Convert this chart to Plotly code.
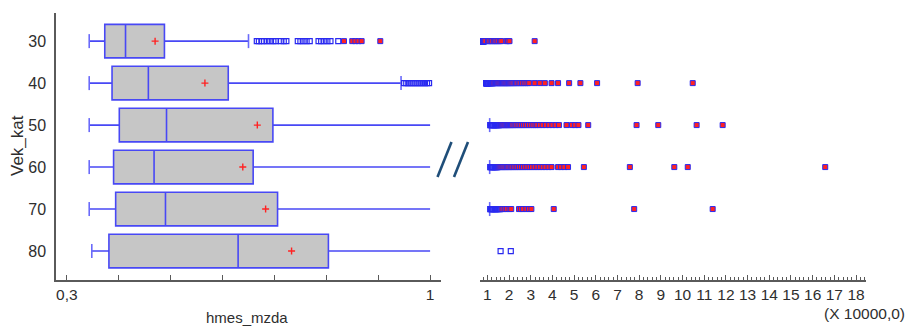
import plotly.graph_objects as go

# ---------------- data (units of 10000) ----------------
categories = ["30", "40", "50", "60", "70", "80"]
lower_whisker = [0.343, 0.343, 0.343, 0.343, 0.343, 0.348]
q1 = [0.373, 0.387, 0.401, 0.390, 0.394, 0.381]
median = [0.413, 0.457, 0.492, 0.468, 0.490, 0.630]
mean = [0.470, 0.566, 0.667, 0.639, 0.683, 0.733]
q3 = [0.488, 0.611, 0.697, 0.659, 0.706, 0.804]
upper_whisker = [0.650, 0.944, 1.106, 1.106, 1.106, 1.000]

outside_points = {
    "30": [0.666, 0.670, 0.675, 0.680, 0.686, 0.692, 0.698, 0.703, 0.712, 0.718, 0.723,
           0.745, 0.750, 0.756, 0.762, 0.768, 0.785, 0.790, 0.796, 0.802, 0.808, 0.823],
    "40": [0.950, 0.954, 0.958, 0.962, 0.966, 0.970, 0.974, 0.978, 0.982, 0.986, 0.990,
           0.994, 0.998, 1.03, 1.06, 1.09, 1.12, 1.15, 1.18, 1.21, 1.24],
    "50": [1.13, 1.17, 1.21, 1.25, 1.29, 1.33, 1.37, 1.41, 1.45, 1.49, 1.53],
    "60": [1.13, 1.17, 1.21, 1.25, 1.29, 1.33, 1.37, 1.41, 1.45],
    "70": [1.13, 1.17, 1.21, 1.25, 1.29, 1.33, 1.37, 1.41, 1.46, 1.52, 1.58],
    "80": [1.61, 2.08],
}
far_outside_points = {
    "30": [0.834, 0.850, 0.856, 0.862, 0.868, 0.904, 1.03, 1.08, 1.15, 1.22, 1.30, 1.36,
           1.42, 1.50, 1.58, 1.64, 1.88, 1.95, 2.02, 3.18],
    "40": [1.28, 1.32, 1.36, 1.40, 1.44, 1.48, 1.52, 1.56, 1.60, 1.64, 1.68, 1.72, 1.76,
           1.80, 1.84, 1.88, 1.92, 1.96, 2.00, 2.05, 2.10, 2.15, 2.20, 2.26, 2.32, 2.38,
           2.45, 2.52, 2.60, 2.68, 2.76, 2.85, 2.93, 3.18, 3.42, 3.65, 3.96, 4.26, 4.77,
           5.29, 6.06, 7.93, 10.47],
    "50": [1.59, 1.63, 1.67, 1.71, 1.75, 1.79, 1.83, 1.87, 1.91, 1.95, 1.99, 2.04, 2.09,
           2.14, 2.20, 2.26, 2.33, 2.40, 2.48, 2.56, 2.64, 2.73, 2.82, 2.92, 3.02, 3.12,
           3.22, 3.30, 3.42, 3.55, 3.70, 3.85, 4.00, 4.15, 4.30, 4.65, 4.90, 5.05, 5.20,
           5.65, 7.88, 8.88, 10.65, 11.85],
    "60": [1.49, 1.54, 1.59, 1.64, 1.69, 1.74, 1.79, 1.84, 1.90, 1.96, 2.02, 2.08, 2.15,
           2.22, 2.30, 2.38, 2.46, 2.55, 2.64, 2.74, 2.84, 2.95, 3.06, 3.18, 3.30, 3.42,
           3.55, 3.68, 3.82, 3.96, 4.26, 4.40, 4.55, 4.72, 5.45, 7.57, 9.62, 10.24, 16.58],
    "70": [1.66, 1.74, 1.82, 1.90, 2.02, 2.10, 2.46, 2.55, 2.65, 2.80, 2.92, 3.03, 4.06,
           7.77, 11.39],
    "80": [],
}

left_tick_values = [0.3, 0.4, 0.5, 0.6, 0.7, 0.8, 0.9, 1.0]
left_tick_labels = ["0,3", "", "", "", "", "", "", "1"]
right_tick_values = [1, 2, 3, 4, 5, 6, 7, 8, 9, 10, 11, 12, 13, 14, 15, 16, 17, 18]
right_tick_labels = ["1", "2", "3", "4", "5", "6", "7", "8", "9", "10", "11", "12",
                     "13", "14", "15", "16", "17", "18"]

BREAK = 1.0          # value where the axis is broken
LEFT_RANGE = [0.279, 1.021]
RIGHT_RANGE = [0.66, 18.46]

# ---------------- style ----------------
FONT = "Arial, Liberation Sans, sans-serif"
BLUE = "#4848F5"
WHISK = "#6A6AFA"
PT_BLUE = "#2A2AF0"
RED = "#FF2222"
GRAY_FILL = "#C6C6C6"
AXIS = "#5A5A5A"
TXT = "#2E2E2E"

fig = go.Figure()

# boxes (left panel)
fig.add_trace(go.Box(
    y=categories, q1=q1, median=median, q3=q3,
    lowerfence=lower_whisker,
    upperfence=[min(u, BREAK) for u in upper_whisker],
    orientation="h", width=0.8, whiskerwidth=0,
    fillcolor=GRAY_FILL, line=dict(color=BLUE, width=1.6),
    boxpoints=False, showlegend=False, hoverinfo="skip",
    xaxis="x", yaxis="y"))

# whisker caps
cap_style = dict(symbol="line-ns", size=10, line=dict(color=WHISK, width=1.6))
fig.add_trace(go.Scatter(
    x=lower_whisker, y=categories, mode="markers", marker=cap_style,
    xaxis="x", yaxis="y", showlegend=False, hoverinfo="skip"))
lc_x = [u for u in upper_whisker if u < BREAK]
lc_y = [c for c, u in zip(categories, upper_whisker) if u < BREAK]
fig.add_trace(go.Scatter(x=lc_x, y=lc_y, mode="markers", marker=cap_style,
                         xaxis="x", yaxis="y", showlegend=False, hoverinfo="skip"))

# right panel whisker continuation
for c, u in zip(categories, upper_whisker):
    if u > BREAK:
        fig.add_trace(go.Scatter(
            x=[BREAK, u], y=[c, c], mode="lines", line=dict(color=WHISK, width=1.6),
            xaxis="x2", yaxis="y", showlegend=False, hoverinfo="skip"))
rc_x = [u for u in upper_whisker if u > BREAK]
rc_y = [c for c, u in zip(categories, upper_whisker) if u > BREAK]
fig.add_trace(go.Scatter(x=rc_x, y=rc_y, mode="markers", marker=cap_style,
                         xaxis="x2", yaxis="y", showlegend=False, hoverinfo="skip"))

# means
fig.add_trace(go.Scatter(
    x=mean, y=categories, mode="markers",
    marker=dict(symbol="cross-thin", size=5, line=dict(color=RED, width=1.4)),
    xaxis="x", yaxis="y", showlegend=False, hoverinfo="skip"))

# outliers on both panels
ox, oy, fx, fy = [], [], [], []
for c in categories:
    ox += outside_points[c]
    oy += [c] * len(outside_points[c])
    fx += far_outside_points[c]
    fy += [c] * len(far_outside_points[c])

for xa in ["x", "x2"]:
    fig.add_trace(go.Scatter(
        x=ox, y=oy, mode="markers",
        marker=dict(symbol="square-open", size=5, color=PT_BLUE, line=dict(width=1.2)),
        xaxis=xa, yaxis="y", showlegend=False, hoverinfo="skip"))
    fig.add_trace(go.Scatter(
        x=fx, y=fy, mode="markers",
        marker=dict(symbol="square", size=5, color=RED, line=dict(color=PT_BLUE, width=1)),
        xaxis=xa, yaxis="y", showlegend=False, hoverinfo="skip"))

# ---------------- layout ----------------
W, H = 909, 328
L, R, T, B = 56, 43, 13, 48
PW, PH = W - L - R, H - T - B

def px(x):
    return (x - L) / PW

def py(y):
    return (H - B - y) / PH

shapes = []
for (x0, y0, x1, y1) in [(437.5, 177, 451.5, 142), (454, 177, 468, 142)]:
    shapes.append(dict(type="line", xref="paper", yref="paper",
                       x0=px(x0), y0=py(y0), x1=px(x1), y1=py(y1),
                       line=dict(color="#1F4E79", width=2.6)))

fig.update_layout(
    width=W, height=H,
    margin=dict(l=L, r=R, t=T, b=B),
    paper_bgcolor="white", plot_bgcolor="white",
    font=dict(family=FONT, size=15, color=TXT),
    showlegend=False,
    xaxis=dict(domain=[0, px(441)], range=LEFT_RANGE, anchor="y",
               tickmode="array", tickvals=left_tick_values, ticktext=left_tick_labels,
               ticks="inside", ticklen=5, tickwidth=1.2, tickcolor=AXIS,
               showline=True, linecolor=AXIS, linewidth=1.5,
               showgrid=False, zeroline=False,
               tickfont=dict(size=15.5, color=TXT)),
    xaxis2=dict(domain=[px(480), 1.0], range=RIGHT_RANGE, anchor="y",
                tickmode="array", tickvals=right_tick_values, ticktext=right_tick_labels,
                ticks="inside", ticklen=5, tickwidth=1, tickcolor=AXIS,
                minor=dict(dtick=0.2, tick0=0, ticks="inside", ticklen=3,
                           tickcolor=AXIS, tickwidth=1),
                showline=True, linecolor=AXIS, linewidth=1.5,
                showgrid=False, zeroline=False,
                tickfont=dict(size=15.5, color=TXT)),
    yaxis=dict(type="category", categoryorder="array", categoryarray=categories,
               range=[5.69, -0.67], anchor="x",
               showline=True, linecolor=AXIS, linewidth=1.5,
               ticks="", ticklabelstandoff=5,
               showgrid=False, zeroline=False,
               tickfont=dict(size=16, color=TXT)),
    shapes=shapes,
    annotations=[
        dict(text="hmes_mzda", xref="paper", yref="paper", x=px(247), y=py(328),
             xanchor="center", yanchor="bottom", showarrow=False,
             font=dict(size=15, color=TXT)),
        dict(text="Vek_kat", xref="paper", yref="paper", x=px(17), y=py(146),
             xanchor="center", yanchor="middle", textangle=-90, showarrow=False,
             font=dict(size=17, color=TXT)),
        dict(text="(X 10000,0)", xref="paper", yref="paper", x=px(907), y=py(313),
             xanchor="right", yanchor="middle", showarrow=False,
             font=dict(size=15.5, color=TXT)),
    ],
)

# remove the default page margin so the figure sits at the window's top-left corner
fig.write_html("out.html", config={"displayModeBar": False},
               post_script="document.body.style.margin='0px';document.body.style.overflow='hidden';")
